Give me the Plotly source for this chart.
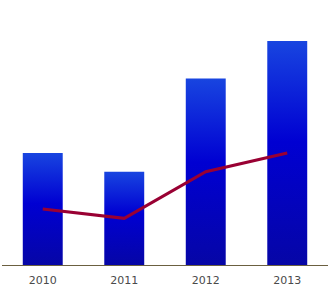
import plotly.graph_objects as go

years = ["2010", "2011", "2012", "2013"]
bar_values = [120, 100, 200, 240]
line_values = [60, 50, 100, 120]

bar_half = 0.245
gradient = [[0.0, "#0606a6"], [0.55, "#0000d2"], [1.0, "#1845e0"]]

fig = go.Figure()
for i, v in enumerate(bar_values):
    xs = [i - bar_half, i + bar_half, i + bar_half, i - bar_half, i - bar_half]
    ys = [0, 0, v, v, 0]
    fig.add_trace(go.Scatter(
        x=xs, y=ys, mode="lines", fill="toself",
        line=dict(width=0, color="rgba(0,0,0,0)"),
        fillgradient=dict(type="vertical", colorscale=gradient, start=0, stop=v),
        hoverinfo="skip", showlegend=False,
    ))

fig.add_trace(go.Scatter(
    x=list(range(len(years))), y=line_values, mode="lines",
    line=dict(color="#990033", width=3), showlegend=False,
))

fig.update_layout(
    width=334, height=295,
    margin=dict(l=2, r=6, t=0, b=30),
    paper_bgcolor="white", plot_bgcolor="white",
    xaxis=dict(
        range=[-0.5, 3.5], tickmode="array",
        tickvals=list(range(len(years))), ticktext=years,
        showgrid=False, zeroline=False, showline=True,
        linecolor="#6b6040", linewidth=1, ticks="",
        ticklabelstandoff=5,
        tickfont=dict(family="DejaVu Sans", size=11, color="#4a4a4a"),
    ),
    yaxis=dict(range=[0, 284], visible=False, showgrid=False, zeroline=False),
)

fig.write_html("out.html")
